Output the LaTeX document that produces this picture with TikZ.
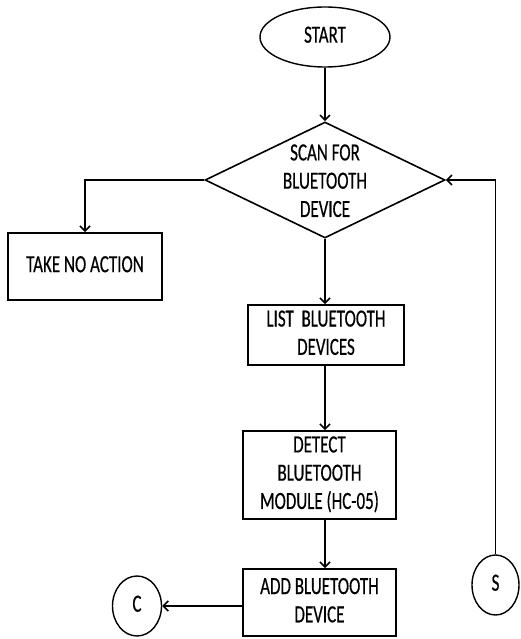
\documentclass[tikz,border=0pt]{standalone}
\usepackage{fontspec}
\setmainfont{Carlito}[FakeBold=0.6]
\usepackage{graphicx}
\usetikzlibrary{shapes.geometric,arrows.meta}
\newcommand{\lbl}[1]{\scalebox{1}[1.45]{\begin{tabular}{@{}c@{}}#1\end{tabular}}}
\tikzset{
  box/.style={draw, line width=1.8pt, rectangle, inner sep=0pt},
  oval/.style={draw, line width=1.4pt, ellipse, inner sep=0pt},
  dia/.style={draw, line width=1.6pt, diamond, inner sep=0pt},
  txt/.style={font=\fontsize{17}{19.5}\selectfont, text=black},
  conn/.style={line width=1.6pt, -{Straight Barb[length=5pt,width=10pt,line width=1.6pt]}},
}
\begin{document}
\begin{tikzpicture}[x=1pt,y=-1pt]
\useasboundingbox (0,0) rectangle (520,639);
\node[oval, txt, minimum width=130pt, minimum height=60pt] (start) at (325,37) {\lbl{START}};
\node[dia, minimum width=240pt, minimum height=116pt] (scan) at (325,180) {};
\node[txt] (scantext) at (325,183) {\lbl{SCAN FOR\\BLUETOOTH\\DEVICE}};
\node[box, txt, minimum width=154pt, minimum height=67pt] (take) at (85,266.5) {\lbl{TAKE NO ACTION}};
\node[box, txt, minimum width=156pt, minimum height=60pt] (list) at (326,335) {\lbl{LIST\ \ BLUETOOTH\\DEVICES}};
\node[box, txt, minimum width=153pt, minimum height=88pt] (detect) at (319.5,475) {\lbl{DETECT\\BLUETOOTH\\MODULE (HC-05)}};
\node[box, txt, minimum width=153pt, minimum height=67pt] (add) at (319.5,602.5) {\lbl{ADD BLUETOOTH\\DEVICE}};
\node[oval, txt, minimum width=49pt, minimum height=60pt] (c) at (137,606) {\lbl{C}};
\node[oval, txt, minimum width=47pt, minimum height=60pt] (s) at (495.5,585) {\lbl{S}};
\draw[conn] (start.south) -- (scan.north);
\draw[conn] (scan.west) -| (take.north);
\draw[conn] (scan.south) -- (list.north -| scan.south);
\draw[conn] (list.south -| scan.south) -- (detect.north -| scan.south);
\draw[conn] (detect.south -| scan.south) -- (add.north -| scan.south);
\draw[conn] (add.west |- c.east) -- (c.east);
\draw[conn] (s.north) |- (scan.east);
\end{tikzpicture}
\end{document}
